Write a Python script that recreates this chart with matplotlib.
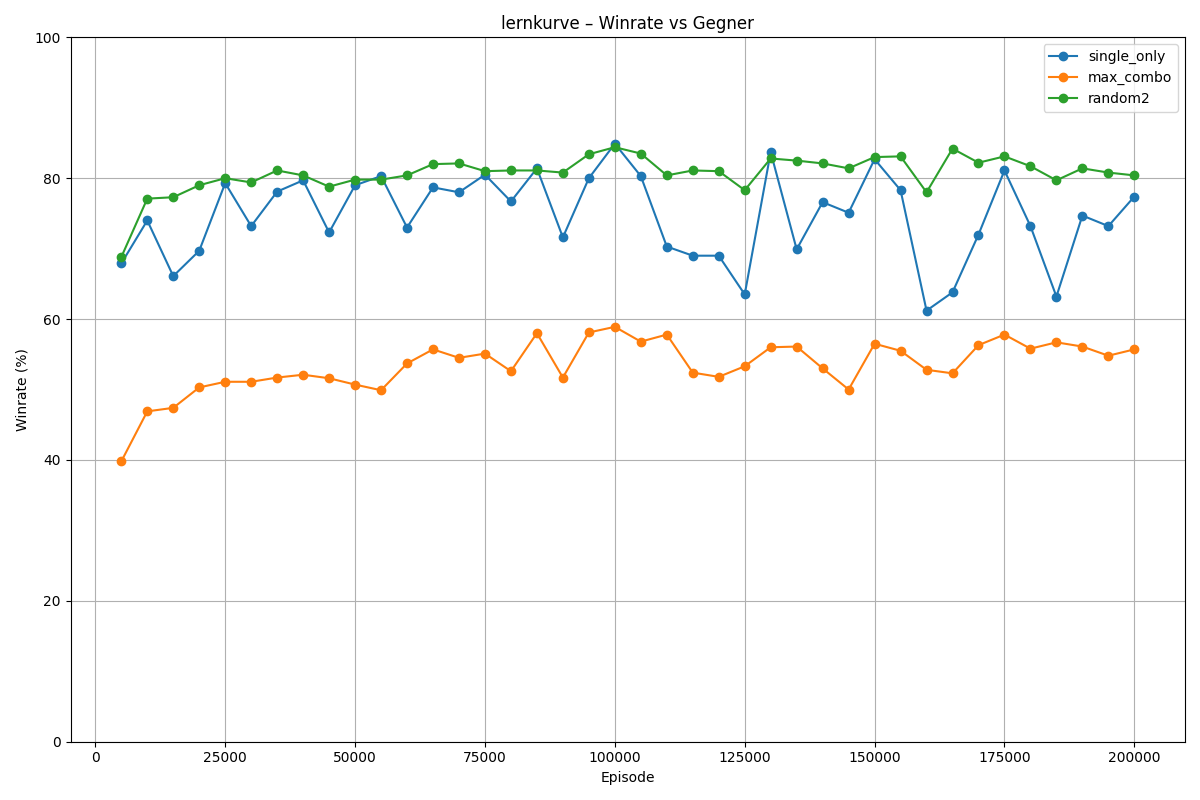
import numpy as np
import matplotlib
matplotlib.use("Agg")
import matplotlib.pyplot as plt

episodes = np.arange(5000, 200001, 5000)

single_only = [67.9, 74.0, 66.1, 69.7, 79.3, 73.2, 78.1, 79.7, 72.3, 79.0,
               80.3, 73.0, 78.7, 78.0, 80.5, 76.7, 81.4, 71.6, 80.0, 84.9,
               80.3, 70.3, 69.0, 69.0, 63.5, 83.7, 69.9, 76.6, 75.1, 82.7,
               78.3, 61.2, 63.8, 72.0, 81.1, 73.2, 63.2, 74.7, 73.2, 77.4]
max_combo = [39.8, 46.9, 47.4, 50.3, 51.1, 51.1, 51.7, 52.1, 51.6, 50.7,
             49.9, 53.7, 55.7, 54.5, 55.1, 52.6, 58.0, 51.7, 58.1, 58.9,
             56.8, 57.8, 52.4, 51.8, 53.3, 56.0, 56.1, 53.0, 50.0, 56.5,
             55.5, 52.8, 52.3, 56.3, 57.8, 55.8, 56.7, 56.1, 54.8, 55.7]
random2 = [68.8, 77.1, 77.3, 79.0, 80.0, 79.4, 81.1, 80.4, 78.8, 79.8,
           79.8, 80.4, 82.0, 82.1, 81.0, 81.1, 81.1, 80.8, 83.4, 84.4,
           83.5, 80.4, 81.1, 81.0, 78.3, 82.8, 82.5, 82.1, 81.4, 83.0,
           83.1, 78.0, 84.2, 82.2, 83.1, 81.7, 79.7, 81.4, 80.8, 80.4]

fig, ax = plt.subplots(figsize=(12, 8), dpi=100)
ax.plot(episodes, single_only, marker="o", label="single_only")
ax.plot(episodes, max_combo, marker="o", label="max_combo")
ax.plot(episodes, random2, marker="o", label="random2")
ax.set_ylim(0, 100)
ax.set_xlabel("Episode")
ax.set_ylabel("Winrate (%)")
ax.set_title("lernkurve – Winrate vs Gegner")
ax.grid(True)
ax.legend(loc="upper right")
fig.tight_layout()
fig.savefig("out.png")
